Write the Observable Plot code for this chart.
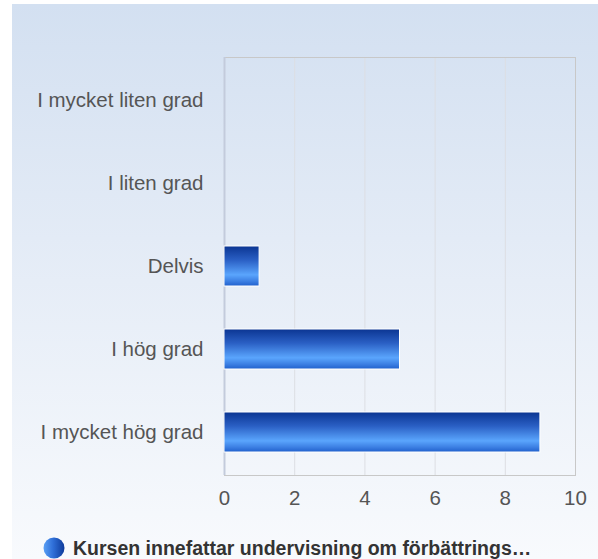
<!DOCTYPE html>
<html>
<head>
<meta charset="utf-8">
<script src="https://cdn.jsdelivr.net/npm/d3@7"></script>
<script src="https://cdn.jsdelivr.net/npm/@observablehq/plot@0.6"></script>
<style>
  html, body { margin: 0; padding: 0; background: #ffffff; }
  #wrap {
    position: absolute; left: 12px; top: 4px; width: 586px; height: 555px;
    background: linear-gradient(to bottom, #d3e0f1 0%, #e6edf7 50%, #f8fafd 100%);
    font-family: "Liberation Sans", Arial, sans-serif;
  }
  #chart svg { display: block; }
  #legend {
    position: absolute; left: 31px; top: 532px; height: 24px;
    display: flex; align-items: center;
    font-weight: bold; font-size: 19.5px; color: #333333; white-space: nowrap;
  }
  #legend svg { margin-right: 8px; }
</style>
</head>
<body>
<div id="wrap">
  <div id="chart"></div>
  <div id="legend"></div>
</div>
<script>
const categories = ["I mycket liten grad", "I liten grad", "Delvis", "I hög grad", "I mycket hög grad"];
const counts = [0, 0, 1, 5, 9];
const xTicks = [0, 2, 4, 6, 8, 10];
const seriesName = "Kursen innefattar undervisning om förbättrings…";

const data = categories.map((c, i) => ({category: c, value: counts[i]}));

const chart = Plot.plot({
  width: 586,
  height: 520,
  marginLeft: 212,
  marginRight: 23,
  marginTop: 53,
  marginBottom: 49,
  style: {background: "transparent", fontFamily: "'Liberation Sans', Arial, sans-serif", fontSize: "20px", color: "#555555"},
  x: {domain: [0, 10], ticks: xTicks},
  y: {domain: categories, paddingInner: 0.52, paddingOuter: 0.26},
  marks: [
    Plot.gridX(xTicks, {stroke: "#dcdee3", strokeOpacity: 1}),
    Plot.frame({stroke: "#c8c8c8"}),
    Plot.ruleX([0], {stroke: "#c3cbdc", strokeWidth: 2}),
    Plot.barX(data, {x: "value", y: "category", fill: "url(#barGrad)", stroke: "#ffffff", strokeWidth: 1}),
    Plot.axisX(xTicks, {tickSize: 0, tickPadding: 15, fontSize: 20.5, fill: "#555555", label: null}),
    Plot.axisY({tickSize: 0, tickPadding: 21, fontSize: 20.5, fill: "#555555", label: null})
  ]
});

const ns = "http://www.w3.org/2000/svg";
const defs = document.createElementNS(ns, "defs");
defs.innerHTML = `
  <linearGradient id="barGrad" x1="0" y1="0" x2="0" y2="1">
    <stop offset="0" stop-color="#0b3592"/>
    <stop offset="0.35" stop-color="#2a5fc4"/>
    <stop offset="0.72" stop-color="#5aa5fd"/>
    <stop offset="0.88" stop-color="#3c7fe3"/>
    <stop offset="1" stop-color="#2060cc"/>
  </linearGradient>`;
chart.insertBefore(defs, chart.firstChild);
document.getElementById("chart").appendChild(chart);

const legend = document.getElementById("legend");
legend.innerHTML = `
<svg width="22" height="22" viewBox="0 0 22 22">
  <defs>
    <linearGradient id="legGrad" x1="0" y1="0" x2="1" y2="0">
      <stop offset="0" stop-color="#5aa0f5"/>
      <stop offset="0.45" stop-color="#2f6fd8"/>
      <stop offset="1" stop-color="#0d3a9a"/>
    </linearGradient>
  </defs>
  <circle cx="11" cy="11" r="10.5" fill="url(#legGrad)"/>
</svg><span>${seriesName}</span>`;
</script>
</body>
</html>
